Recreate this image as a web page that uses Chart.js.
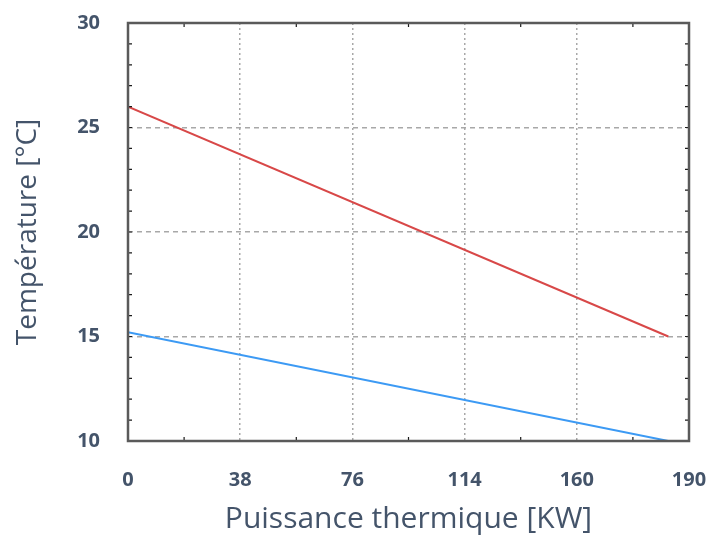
<!DOCTYPE html>
<html>
<head>
<meta charset="utf-8">
<script src="https://cdn.jsdelivr.net/npm/chart.js@4/dist/chart.umd.min.js"></script>
<style>
  html, body { margin: 0; padding: 0; background: #ffffff; }
  #wrap { width: 707px; height: 538px; position: relative; }
</style>
</head>
<body>
<div id="wrap"><canvas id="chart" width="707" height="538"></canvas></div>
<script>
// Thermal power (kW) and the two temperature profiles
const powerKW = [0, 183];
const tempHot = [26, 15];
const tempCold = [15.2, 10];
const xTickLabels = ['0', '38', '76', '114', '160', '190'];
const yTickLabels = ['10', '15', '20', '25', '30'];

const textColor = '#44546a';
const fontFamily = "'Open Sans', 'Noto Sans', sans-serif";

// Frame around the plot area with small inward tick marks on all four sides
const framePlugin = {
  id: 'frame',
  afterDatasetsDraw(chart) {
    const { ctx, chartArea: a, scales: { x, y } } = chart;
    ctx.save();
    ctx.strokeStyle = '#1a1a1a';
    ctx.lineWidth = 1.2;
    const len = 4;
    // minor x ticks halfway between labelled ticks
    const xt = x.ticks.map(t => t.value);
    for (let i = 0; i < xt.length - 1; i++) {
      const px = x.getPixelForValue((xt[i] + xt[i + 1]) / 2);
      ctx.beginPath();
      ctx.moveTo(px, a.bottom); ctx.lineTo(px, a.bottom - len);
      ctx.moveTo(px, a.top); ctx.lineTo(px, a.top + len);
      ctx.stroke();
    }
    // y ticks every degree
    for (let v = y.min + 1; v < y.max; v++) {
      const py = y.getPixelForValue(v);
      ctx.beginPath();
      ctx.moveTo(a.left, py); ctx.lineTo(a.left + len, py);
      ctx.moveTo(a.right, py); ctx.lineTo(a.right - len, py);
      ctx.stroke();
    }
    ctx.strokeStyle = '#5a5a5a';
    ctx.lineWidth = 2.5;
    ctx.strokeRect(a.left, a.top, a.right - a.left, a.bottom - a.top);
    ctx.restore();
  }
};

new Chart(document.getElementById('chart'), {
  type: 'line',
  data: {
    datasets: [
      {
        label: 'Chaud',
        data: powerKW.map((p, i) => ({ x: p, y: tempHot[i] })),
        borderColor: '#d84848',
        borderWidth: 2,
        pointRadius: 0,
        fill: false,
        tension: 0
      },
      {
        label: 'Froid',
        data: powerKW.map((p, i) => ({ x: p, y: tempCold[i] })),
        borderColor: '#3c9af4',
        borderWidth: 2,
        pointRadius: 0,
        fill: false,
        tension: 0
      }
    ]
  },
  options: {
    responsive: false,
    animation: false,
    devicePixelRatio: 1,
    layout: { padding: { left: 0, right: 18, top: 23, bottom: 0 } },
    plugins: {
      legend: { display: false },
      tooltip: { enabled: false }
    },
    scales: {
      x: {
        type: 'linear',
        min: 0,
        max: 190,
        afterFit(s) {
          s.height = 538 - 441;
          s.paddingLeft = 0;
          s.paddingRight = 0;
        },
        ticks: {
          stepSize: 38,
          autoSkip: false,
          maxRotation: 0,
          padding: 27,
          color: textColor,
          font: { family: fontFamily, size: 20, weight: 'bold' },
          callback: (v, i) => xTickLabels[i]
        },
        grid: {
          drawTicks: false,
          lineWidth: 1.5,
          color: (ctx) => (ctx.tick && (ctx.tick.value === 0 || ctx.tick.value === 190)) ? 'rgba(0,0,0,0)' : '#a8a8a8'
        },
        border: { display: false, dash: [2, 3] },
        title: {
          display: true,
          text: 'Puissance thermique [KW]',
          color: textColor,
          font: { family: fontFamily, size: 30, weight: 'normal' },
          padding: { top: 0, bottom: 1 }
        }
      },
      y: {
        type: 'linear',
        min: 10,
        max: 30,
        afterFit(s) {
          s.width = 128;
          s.paddingTop = 0;
          s.paddingBottom = 0;
        },
        ticks: {
          stepSize: 5,
          padding: 28,
          color: textColor,
          font: { family: fontFamily, size: 20, weight: 'bold' },
          callback: (v, i) => yTickLabels[i]
        },
        grid: {
          drawTicks: false,
          lineWidth: 1.5,
          color: (ctx) => (ctx.tick && (ctx.tick.value === 10 || ctx.tick.value === 30)) ? 'rgba(0,0,0,0)' : '#a8a8a8'
        },
        border: { display: false, dash: [5, 4] },
        title: {
          display: true,
          text: 'Température [°C]',
          color: textColor,
          font: { family: fontFamily, size: 28, weight: 'normal' },
          padding: { top: 11, bottom: 0 }
        }
      }
    }
  },
  plugins: [framePlugin]
});
</script>
</body>
</html>
